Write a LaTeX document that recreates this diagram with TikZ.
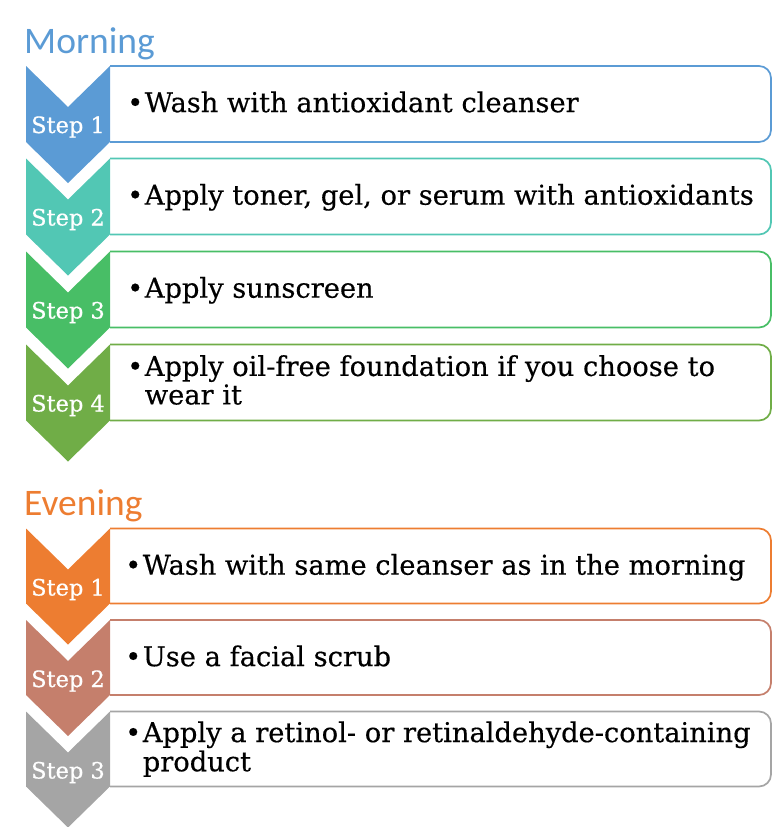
\documentclass[tikz,border=0pt]{standalone}
\usepackage{fontspec}
\newfontfamily\bodyf[FakeBold=0.4]{DejaVu Serif}
\newfontfamily\labelf[FakeBold=0.6]{DejaVu Serif}
\newfontfamily\headf{Carlito}
\definecolor{cA}{HTML}{5B9BD5}
\definecolor{cB}{HTML}{52C7B4}
\definecolor{cC}{HTML}{48BE66}
\definecolor{cD}{HTML}{70AD47}
\definecolor{cE}{HTML}{ED7D31}
\definecolor{cF}{HTML}{C57F6C}
\definecolor{cG}{HTML}{A5A5A5}
\tikzset{
  heading/.style={anchor=base west, inner sep=0pt, font=\headf\fontsize{37.5}{40}\selectfont},
  steplabel/.style={anchor=base, inner sep=0pt, text=white, font=\labelf\fontsize{22.5}{24}\selectfont},
  itemtext/.style={anchor=west, inner sep=0pt, align=left, font=\bodyf\fontsize{27.3}{28}\selectfont},
  boxline/.style={line width=1.7pt},
}
% #1 top, #2 height, #3 colour, #4 label, #5 name
\newcommand\chevstep[5]{%
  \fill[#3] (26,#1) -- (68,#1+41) -- (110,#1) -- (110,#1+#2) -- (68,#1+#2+41) -- (26,#1+#2) -- cycle;
  \draw[boxline,draw=#3] (110,#1) [rounded corners=12pt] -- (771,#1) -- (771,#1+#2) [sharp corners] -- (110,#1+#2);
  \node[steplabel] (#5) at (68,#1+67) {#4};
}
\newcommand\bul[1]{\begin{tabular}{@{}l@{\hspace{1.5pt}}l@{}}•&#1\end{tabular}}
\begin{document}
\begin{tikzpicture}[x=1pt,y=-1pt]
\useasboundingbox (0,0) rectangle (781,827);
\node[heading,text=cA] (morning) at (24,53) {Morning};
\chevstep{66}{76}{cA}{Step 1}{m1}
\chevstep{158.5}{76}{cB}{Step 2}{m2}
\chevstep{251.5}{76}{cC}{Step 3}{m3}
\chevstep{344.5}{76}{cD}{Step 4}{m4}
\node[itemtext] (t1) at (127,66+40) {\bul{Wash with antioxidant cleanser}};
\node[itemtext] (t2) at (127,158.5+40) {\bul{Apply toner, gel, or serum with antioxidants}};
\node[itemtext] (t3) at (127,251.5+40) {\bul{Apply sunscreen}};
\node[itemtext] (t4) at (127,344.5+39.5) {\bul{Apply oil-free foundation if you choose to\\&wear it}};
\node[heading,text=cE] (evening) at (24,515) {Evening};
\chevstep{528.5}{75}{cE}{Step 1}{e1}
\chevstep{620}{75}{cF}{Step 2}{e2}
\chevstep{711.5}{75}{cG}{Step 3}{e3}
\node[itemtext] (u1) at (125,528.5+40) {\bul{Wash with same cleanser as in the morning}};
\node[itemtext] (u2) at (125,620+40) {\bul{Use a facial scrub}};
\node[itemtext] (u3) at (125,711.5+39) {\bul{Apply a retinol- or retinaldehyde-containing\\&product}};
\end{tikzpicture}
\end{document}
